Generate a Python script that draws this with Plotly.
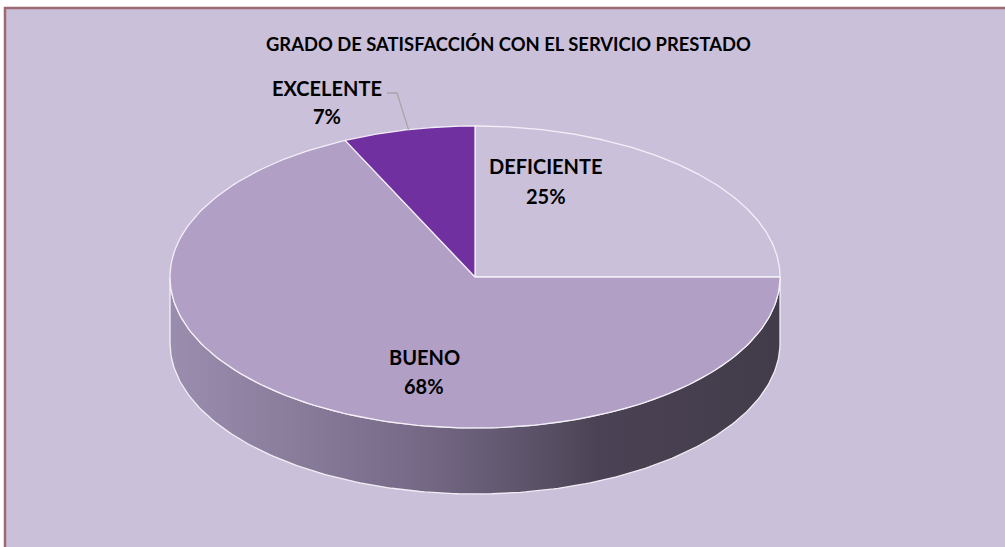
import numpy as np
import plotly.graph_objects as go

# ---- data ----
labels = ["DEFICIENTE", "BUENO", "EXCELENTE"]
values = [25, 68, 7]
title_text = "GRADO DE SATISFACCIÓN CON EL SERVICIO PRESTADO"

# ---- style / layout ----
colors = ["#CBC0DA", "#B19FC6", "#7030A0"]
label_pos = [(546, 166, 196), (424, 357, 386), (327, 88, 116)]
W, H = 1005, 547
CX, CY, RX, RY, DEPTH = 475, 277, 305, 151, 66
EDGE = "rgba(245,242,250,0.95)"
FONT = "Lato"

def pts(a0, a1, dy=0, n=200):
    th = np.radians(np.linspace(a0, a1, n))
    return CX + RX * np.sin(th), CY - RY * np.cos(th) + dy

fig = go.Figure()

total = sum(values)
angles = np.concatenate([[0], np.cumsum(values) / total * 360])

# side (front half only: 90..270 deg clockwise from top)
for i in range(len(values)):
    s0, s1 = max(angles[i], 90), min(angles[i + 1], 270)
    if s1 <= s0:
        continue
    xt, yt = pts(s0, s1)
    xb, yb = pts(s1, s0, DEPTH)
    fig.add_trace(go.Scatter(
        x=np.concatenate([xt, xb, [xt[0]]]), y=np.concatenate([yt, yb, [yt[0]]]),
        mode="lines", fill="toself", line=dict(color=EDGE, width=1.3),
        fillgradient=dict(type="horizontal", start=CX - RX, stop=CX + RX,
                          colorscale=[[0, "#9A8DAE"], [0.2, "#8A7C9B"], [0.4, "#776A88"],
                                      [0.55, "#625870"], [0.7, "#4B4355"], [1, "#423B49"]]),
        hoverinfo="skip", showlegend=False))

# top slices
for i in range(len(values)):
    xa, ya = pts(angles[i], angles[i + 1])
    fig.add_trace(go.Scatter(
        x=np.concatenate([[CX], xa, [CX]]), y=np.concatenate([[CY], ya, [CY]]),
        mode="lines", fill="toself", fillcolor=colors[i],
        line=dict(color=EDGE, width=1.3), hoverinfo="skip", showlegend=False))

# labels
for i, lab in enumerate(labels):
    x, y1, y2 = label_pos[i]
    pct = f"{round(values[i] / total * 100)}%"
    for txt, yy in ((lab, y1), (pct, y2)):
        fig.add_annotation(x=x, y=yy, text=f"<b>{txt}</b>", showarrow=False,
                           font=dict(family=FONT, size=20, color="#000000"),
                           xanchor="center", yanchor="middle")

# leader line for EXCELENTE
mid = (angles[2] + angles[3]) / 2
ex, ey = pts(mid, mid, n=1)
fig.add_shape(type="path", xref="x", yref="y",
              path=f"M 387 93 L 397 93 L {ex[0]:.1f} {ey[0]:.1f}",
              line=dict(color="#A6A6A6", width=1.3))

fig.add_annotation(x=508, y=44, text=f"<b>{title_text}</b>", showarrow=False,
                   font=dict(family=FONT, size=18.4, color="#000000"),
                   xanchor="center", yanchor="middle")

fig.add_shape(type="rect", xref="x", yref="y", x0=5, y0=8, x1=W + 10, y1=H + 10,
              fillcolor="#CBC0DA", line=dict(color="#9B6A72", width=2.5), layer="below")

fig.update_layout(
    width=W, height=H, margin=dict(l=0, r=0, t=0, b=0),
    paper_bgcolor="#FFFFFF", plot_bgcolor="rgba(0,0,0,0)",
    xaxis=dict(range=[0, W], visible=False, fixedrange=True),
    yaxis=dict(range=[H, 0], visible=False, fixedrange=True),
)

fig.write_html("out.html")
